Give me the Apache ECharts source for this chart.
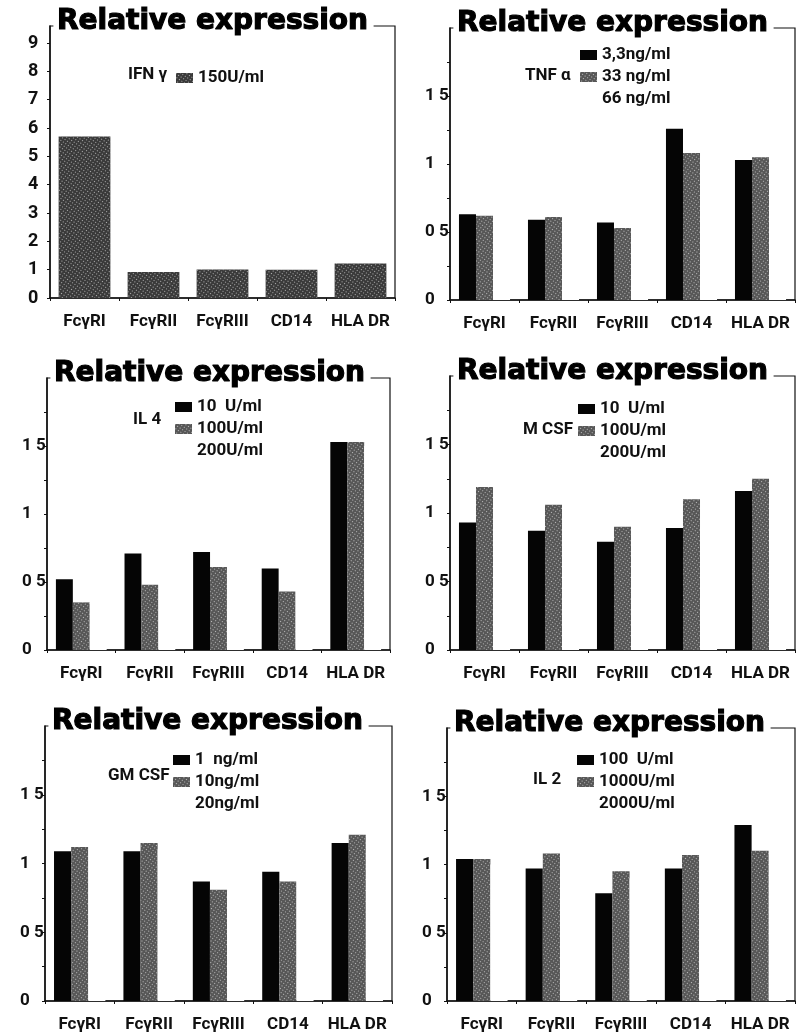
<!DOCTYPE html>
<html lang="en">
<head>
<meta charset="UTF-8">
<title>Relative expression</title>
<script src="https://cdn.jsdelivr.net/npm/echarts@6/dist/echarts.min.js"></script>
<style>
  html, body { margin: 0; padding: 0; background: #fff; }
  #main { width: 797px; height: 1033px; }
</style>
</head>
<body>
<div id="main"></div>
<script type="text/javascript">
// categories on every x axis
var categories = ['FcγRI', 'FcγRII', 'FcγRIII', 'CD14', 'HLA DR'];

// IFN gamma
var ifn150 = [5.7, 0.92, 1.01, 1.0, 1.22];
// TNF alpha
var tnf3 = [0.63, 0.59, 0.57, 1.26, 1.03];
var tnf33 = [0.62, 0.61, 0.53, 1.08, 1.05];
var tnf66 = [0.65, 0.6, 0.55, 1.06, 1.02];
// IL 4
var il4a = [0.52, 0.71, 0.72, 0.6, 1.53];
var il4b = [0.35, 0.48, 0.61, 0.43, 1.53];
var il4c = [0.5, 0.6, 0.6, 0.52, 1.5];
// M CSF
var mcsfA = [0.93, 0.87, 0.79, 0.89, 1.16];
var mcsfB = [1.19, 1.06, 0.9, 1.1, 1.25];
var mcsfC = [0.9, 0.85, 0.8, 0.9, 0.6];
// GM CSF
var gmA = [1.09, 1.09, 0.87, 0.94, 1.15];
var gmB = [1.12, 1.15, 0.81, 0.87, 1.21];
var gmC = [1.3, 1.1, 0.8, 0.9, 1.4];
// IL 2
var il2A = [1.04, 0.97, 0.79, 0.97, 1.29];
var il2B = [1.04, 1.08, 0.95, 1.07, 1.1];
var il2C = [1.0, 1.0, 0.9, 1.11, 1.18];

// tick labels
var ticksIFN = ['0', '1', '2', '3', '4', '5', '6', '7', '8', '9'];
var ticksRel = { '0': '0', '0.5': '0 5', '1': '1', '1.5': '1 5' };

// treatment names and doses
var treatments = ['IFN γ', 'TNF α', 'IL 4', 'M CSF', 'GM CSF', 'IL 2'];
var doses = [
	['150U/ml'],
	['3,3ng/ml', '33 ng/ml', '66 ng/ml'],
	['10  U/ml', '100U/ml', '200U/ml'],
	['10  U/ml', '100U/ml', '200U/ml'],
	['1  ng/ml', '10ng/ml', '20ng/ml'],
	['100  U/ml', '1000U/ml', '2000U/ml']
];
var values = [
	[ifn150],
	[tnf3, tnf33, tnf66],
	[il4a, il4b, il4c],
	[mcsfA, mcsfB, mcsfC],
	[gmA, gmB, gmC],
	[il2A, il2B, il2C]
];

var myChart = echarts.init(document.getElementById('main'));

var small = 'Roboto, sans-serif';

// panel boxes: left, top, width, height
var boxes = [
	[50, 26, 345, 272],
	[450, 28, 345, 272],
	[47, 378, 343, 272],
	[450, 376, 345, 274],
	[45, 726, 347, 275],
	[447, 728, 348, 273]
];
// treatment label x,y and legend x,y
var labelPos = [
	[128, 66, 176, 69],
	[525, 67, 580, 46],
	[133, 411, 175, 398],
	[523, 421, 578, 400],
	[108, 767, 173, 751],
	[533, 771, 577, 751]
];

var speckle = {
	symbol: 'rect',
	symbolSize: 1,
	color: 'rgba(255,255,255,0.6)',
	dashArrayX: [1, 2],
	dashArrayY: [1, 2],
	rotation: 0.6
};
var fills = [
	{ color: '#050505' },
	{ color: '#575757', decal: speckle },
	{ color: '#ffffff' }
];

var grids = [], xAxes = [], yAxes = [], series = [], titles = [], legends = [];

for (var i = 0; i < 6; i++) {
	var b = boxes[i];
	grids.push({
		left: b[0], top: b[1], width: b[2], height: b[3],
		show: true, borderColor: '#111', borderWidth: 1.2, backgroundColor: 'transparent'
	});
	xAxes.push({
		type: 'category', gridIndex: i, data: categories,
		axisLine: { lineStyle: { color: '#111', width: 1.5 } },
		axisTick: { show: true, length: 3, lineStyle: { color: '#111' } },
		axisLabel: { interval: 0, color: '#111', fontFamily: small, fontWeight: 'bold', fontSize: 17, margin: 15 }
	});
	var isIFN = i === 0;
	yAxes.push({
		type: 'value', gridIndex: i, min: 0,
		max: isIFN ? 9.6 : 2,
		interval: isIFN ? 1 : 0.25,
		splitLine: { show: false },
		axisLine: { show: true, lineStyle: { color: '#111', width: 1.5 } },
		axisTick: { show: true, length: 3, lineStyle: { color: '#111' } },
		axisLabel: {
			color: '#111', fontFamily: small, fontWeight: 'bold', fontSize: isIFN ? 18 : 17,
			margin: isIFN ? 22 : 25, align: 'left',
			showMaxLabel: false,
			formatter: isIFN ? function (v) { return ticksIFN[v] !== undefined ? ticksIFN[v] : ''; }
				: function (v) { var k = String(v); return ticksRel[k] !== undefined ? ticksRel[k] : ''; }
		}
	});
	titles.push({
		text: 'Relative expression',
		left: b[0] + 4, top: b[1] - 18,
		backgroundColor: '#fff',
		padding: [0, 5, 0, 3],
		textStyle: {
			fontFamily: 'DejaVu Sans', fontWeight: 'bold', fontSize: 28, color: '#000',
			textBorderColor: '#000', textBorderWidth: 1.2
		}
	});
	titles.push({
		text: treatments[i],
		left: labelPos[i][0], top: labelPos[i][1], padding: 0,
		textStyle: { fontFamily: small, fontWeight: 'bold', fontSize: 17, color: '#111' }
	});
	var names = [];
	for (var s = 0; s < values[i].length; s++) {
		var nm = i + '|' + doses[i][s];
		names.push(nm);
		series.push({
			name: nm, type: 'bar', xAxisIndex: i, yAxisIndex: i,
			data: values[i][s],
			barGap: '0%',
			barCategoryGap: isIFN ? '25%' : '26%',
			itemStyle: isIFN ? { color: '#3a3a3a', decal: speckle } : fills[s]
		});
	}
	legends.push({
		data: names, orient: 'vertical',
		left: labelPos[i][2], top: labelPos[i][3], padding: 0,
		itemWidth: 17, itemHeight: 10, itemGap: 4, icon: 'rect',
		selectedMode: false,
		formatter: function (n) { return n.split('|')[1]; },
		textStyle: { fontFamily: small, fontWeight: 'bold', fontSize: 17, lineHeight: 18, color: '#111' }
	});
}

myChart.setOption({
	animation: false,
	title: titles,
	legend: legends,
	grid: grids,
	xAxis: xAxes,
	yAxis: yAxes,
	series: series
});
</script>
</body>
</html>
